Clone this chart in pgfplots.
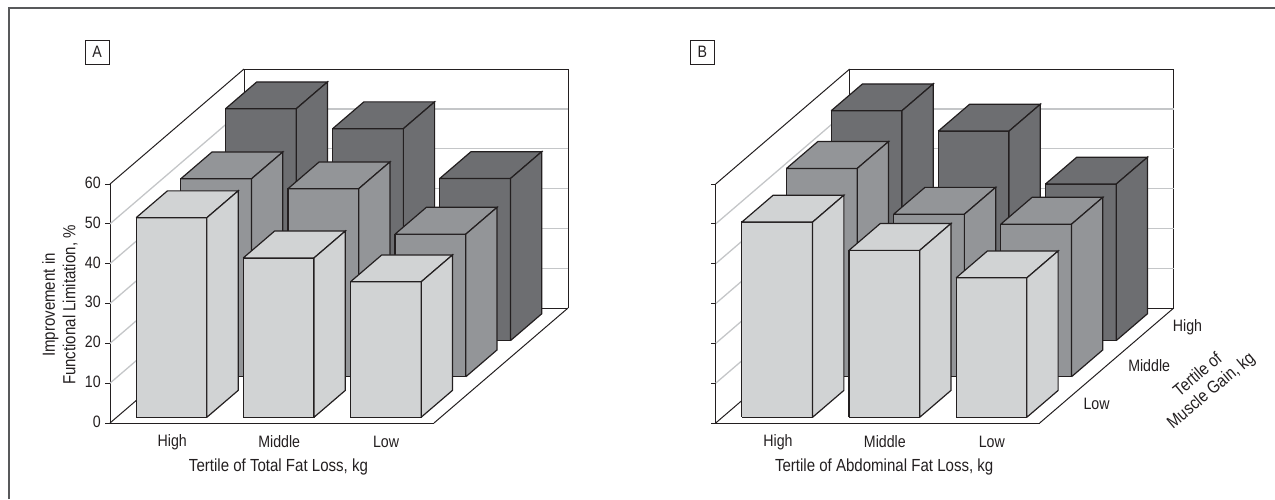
\documentclass[border=0pt]{standalone}
\usepackage{pgfplots}
\pgfplotsset{compat=1.18}
\usepackage{fontspec}
\setmainfont{Liberation Sans}[FakeStretch=0.86]

\definecolor{ink}{HTML}{231F20}
\definecolor{barlight}{HTML}{D1D3D4}
\definecolor{barmid}{HTML}{939598}
\definecolor{bardark}{HTML}{6D6E71}
\definecolor{gridgray}{HTML}{C4C6C8}
\definecolor{framegray}{HTML}{58595B}

% one box: column, row, value, colour (1 px = 1 pt)
\newcommand{\drawbar}[4]{%
  \pgfmathsetmacro\xa{#1*0.992+0.18}%
  \pgfmathsetmacro\xb{\xa+0.655}%
  \pgfmathsetmacro\ya{#2+0.15}%
  \pgfmathsetmacro\yb{#2+0.85}%
  \pgfmathsetmacro\zb{#2==1 ? 0.55 : 0}%
  \pgfmathsetmacro\zt{#3+\zb}%
  \edef\barplots{%
    \noexpand\addplot3[barface,fill=#4] coordinates {(\xa,\ya,\zb) (\xb,\ya,\zb) (\xb,\ya,\zt) (\xa,\ya,\zt) (\xa,\ya,\zb)};
    \noexpand\addplot3[barface,fill=#4] coordinates {(\xa,\ya,\zt) (\xb,\ya,\zt) (\xb,\yb,\zt) (\xa,\yb,\zt) (\xa,\ya,\zt)};
    \noexpand\addplot3[barface,fill=#4] coordinates {(\xb,\ya,\zb) (\xb,\yb,\zb) (\xb,\yb,\zt) (\xb,\ya,\zt) (\xb,\ya,\zb)};
  }%
  \barplots
}
% the axis would slant its z ticks along y, so they are short level lines
\newcommand{\levelticks}{%
  \pgfplotsinvokeforeach{0,10,20,30,40,50,60}{
    \addplot3[draw=ink,line width=1pt,mark=none,forget plot] coordinates {(0,0,##1) (-0.046,0,##1)};
  }%
}

\pgfplotsset{
  barface/.style={draw=ink,line width=1.2pt,line join=miter,mark=none,forget plot},
  panel/.style={
    x={(108pt,0pt)}, y={(44.67pt,38.33pt)}, z={(0pt,3.983pt)},
    xmin=0, xmax=3, ymin=0, ymax=3, zmin=0, zmax=60,
    clip=false,
    anchor=origin,
    axis line style={draw=ink,line width=1pt},
    ztick={0,10,20,30,40,50,60},
    extra z ticks={10,20,30,40,50},
    extra z tick labels={},
    extra z tick style={grid=major},
    xtick={0.57,1.56,2.55},
    xticklabels={High,Middle,Low},
    z grid style={draw=gridgray,line width=1.3pt},
    tick align=outside,
    major tick length=5pt,
    ztick style={draw=none},
    xtick style={draw=none},
    ytick style={draw=none},
    ztick pos=left,
    x tick label style={anchor=center,xshift=4.5pt,yshift=-15.5pt},
    z tick label style={anchor=east,xshift=-2pt,yshift=4.5pt},
    tick label style={font=\fontsize{16.5}{20}\selectfont,text=ink},
    label style={font=\fontsize{17.5}{20.5}\selectfont,text=ink},
    /pgf/number format/assume math mode=true,
    xlabel style={at={(axis cs:1.56,0,0)},anchor=center,yshift=-44pt},
  },
}

\begin{document}
\begin{tikzpicture}[x=1pt,y=1pt]
\useasboundingbox (0,0) rectangle (1275,499);
\draw[framegray,line width=1.3pt] (9,0) -- (9,491) -- (1275,491);

\draw[ink,line width=0.7pt] (85,435) rectangle (109.4,459);
\node[text=ink,font=\fontsize{16.5}{20}\selectfont] at (97.2,447) {A};
\draw[ink,line width=0.7pt] (690.2,435) rectangle (714.5,459);
\node[text=ink,font=\fontsize{16.5}{20}\selectfont] at (702.4,447) {B};

\begin{axis}[panel,
  at={(110pt,76pt)},
  ytick=\empty,
  xlabel={Tertile of Total Fat Loss, kg},
  zlabel={Improvement in\\Functional Limitation, \%},
  zlabel style={at={(axis cs:-0.465,0,29.6)},anchor=center,rotate=0,align=center},
]
\levelticks
\drawbar{0}{2}{58.2}{bardark}
\drawbar{1}{2}{53.2}{bardark}
\drawbar{2}{2}{40.7}{bardark}
\drawbar{0}{1}{49.7}{barmid}
\drawbar{1}{1}{47.2}{barmid}
\drawbar{2}{1}{35.8}{barmid}
\drawbar{0}{0}{50.1}{barlight}
\drawbar{1}{0}{40.0}{barlight}
\drawbar{2}{0}{34.0}{barlight}
\end{axis}

\begin{axis}[panel,
  at={(715.7pt,76pt)},
  zticklabels={},
  ytick={0.5,1.5,2.5},
  yticklabels={Low,Middle,High},
  y tick label style={anchor=west,xshift=13pt},
  xlabel={Tertile of Abdominal Fat Loss, kg},
  ylabel={Tertile of\\Muscle Gain, kg},
  ylabel style={at={(axis cs:4.53,0,10)},anchor=center,rotate=40,align=center},
]
\levelticks
\drawbar{0}{2}{57.7}{bardark}
\drawbar{1}{2}{52.6}{bardark}
\drawbar{2}{2}{39.3}{bardark}
\drawbar{0}{1}{52.3}{barmid}
\drawbar{1}{1}{40.8}{barmid}
\drawbar{2}{1}{38.3}{barmid}
\drawbar{0}{0}{49.0}{barlight}
\drawbar{1}{0}{41.9}{barlight}
\drawbar{2}{0}{35.0}{barlight}
\end{axis}
\end{tikzpicture}
\end{document}
